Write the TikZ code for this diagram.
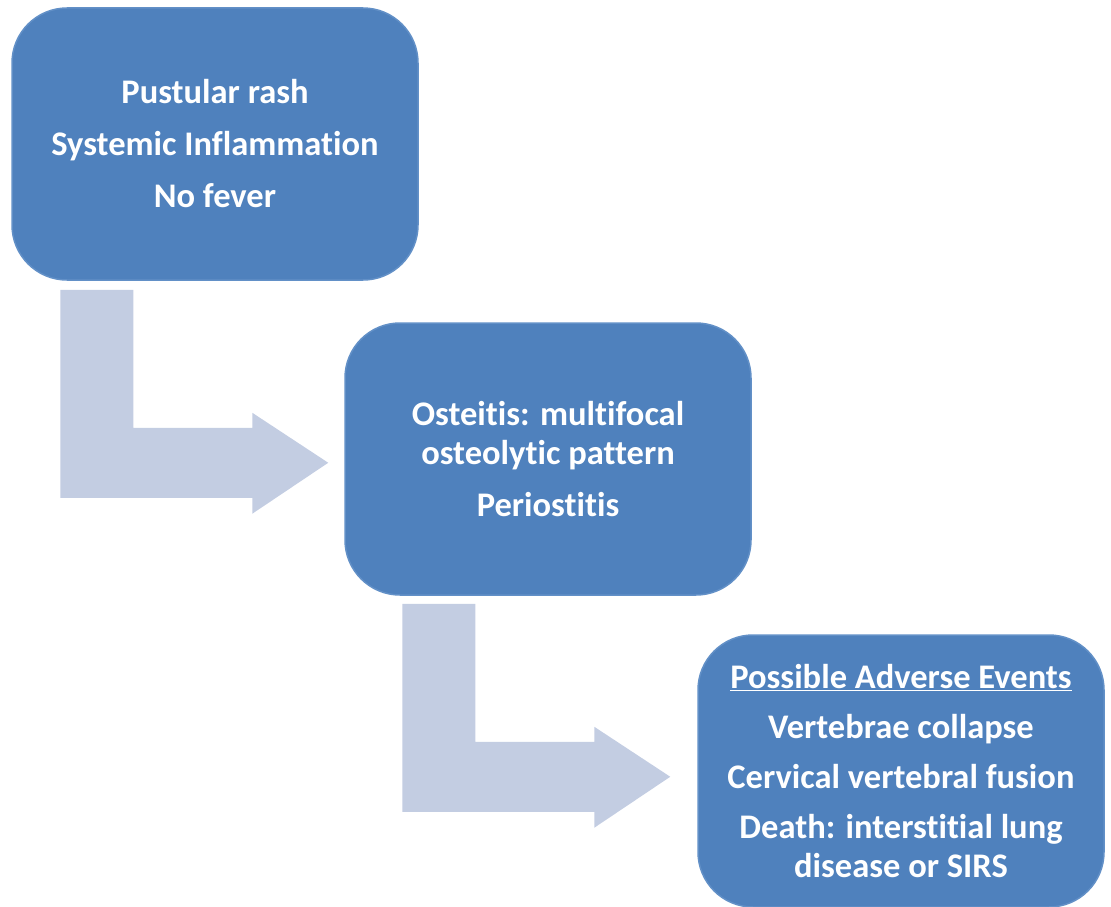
\documentclass[tikz,border=0pt]{standalone}
\usepackage{fontspec}
\setmainfont{Carlito}[Ligatures={NoCommon}]
\usepackage{tikz}
\usetikzlibrary{calc}

\definecolor{boxblue}{RGB}{79,129,189}
\definecolor{boxedge}{RGB}{98,144,199}
\definecolor{arrowgrey}{RGB}{195,205,226}

\begin{document}
\begin{tikzpicture}[x=1pt,y=-1pt,
  stepbox/.style={draw=boxedge,line width=1.5pt,fill=boxblue,rounded corners=55pt,
    minimum width=\WIDTH pt,minimum height=\HEIGHT pt,inner sep=0pt,align=center,
    text=white,font=\fontsize{34.5}{39}\selectfont\bfseries}]

\def\HEIGHT{272}
\def\WIDTH{406}

\useasboundingbox (0,0) rectangle (1111,907);

% boxes
\node at (215,144) [stepbox] (b1) {Pustular rash\\[13pt]Systemic Inflammation\\[13pt]No fever};
\node at (548,459) [stepbox] (b2) {Osteitis: multifocal\\osteolytic pattern\\[13pt]Periostitis};
\node at (901,771) [stepbox] (b3) {\underline{Possible Adverse Events}\\[11pt]Vertebrae collapse\\[11pt]Cervical vertebral fusion\\[11pt]Death: interstitial lung\\disease or SIRS};

% bent arrows
\coordinate (s1) at ($(b1.south west)+(49,9)$);
\coordinate (s2) at ($(b2.south west)+(58,8)$);
\foreach \s in {s1,s2}
  \fill[arrowgrey] (\s) -- ++(73,0) -- ++(0,138) -- ++(119,0) -- ++(0,-15) -- ++(76,50) -- ++(-76,51) -- ++(0,-16) -- ++(-192,0) -- cycle;

\end{tikzpicture}
\end{document}
